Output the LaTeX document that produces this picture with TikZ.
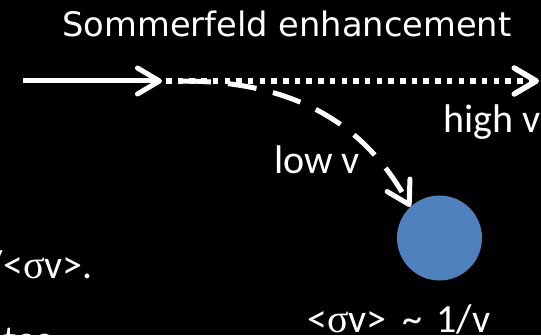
\documentclass[tikz,border=0pt]{standalone}
\usepackage{fontspec}
\setmainfont{Carlito}
\newfontfamily\comicfont{DejaVu Sans}
\newfontfamily\greekfont{Liberation Serif}
\usetikzlibrary{arrows.meta}
\definecolor{ballblue}{RGB}{79,129,189}
\begin{document}
\begin{tikzpicture}[x=1pt,y=1pt,
  txt/.style={text=white,inner sep=0pt,font=\fontsize{40}{44}\selectfont},
  chev/.style={-{Straight Barb[length=22pt,width=26pt,line cap=round,line join=round]}},
  wline/.style={white,line width=5pt}]
\fill[black] (0,0) rectangle (541,335);
\useasboundingbox (0,0) rectangle (541,335);
\clip (0,0) rectangle (541,335);
\node[txt,anchor=base,font=\comicfont\fontsize{33.7}{37}\selectfont] (title) at (287,298) {Sommerfeld enhancement};
\coordinate (s) at (23,254);
\coordinate (m) at (162,254);
\coordinate (e) at (539,254);
\draw[wline,chev] (s) -- (m);
\draw[white,line width=5.5pt,dash pattern=on 5.5pt off 6.2pt,chev] ([xshift=4pt]m) -- (e);
\node[circle,fill=ballblue,minimum size=85pt,inner sep=0pt] (ball) at (439.5,97) {};
\draw[wline,dash pattern=on 29pt off 17pt,chev] ([xshift=20pt]m) .. controls (310,254) and (372,198) .. (ball.133);
\node[txt,anchor=base west] (low) at (274,161) {low v};
\node[txt,anchor=base west] (high) at (443,202) {high v};
\node[txt,anchor=base west] (sv) at (307,3) {<{\greekfont σ}v>\hspace{16pt}\char`\~\hspace{14pt}1/v};
\node[txt,anchor=base east] (left) at (93,57) {1/<{\greekfont σ}v>.};
\node[txt,anchor=base west] (tes) at (3,-18) {tes};
\end{tikzpicture}
\end{document}
